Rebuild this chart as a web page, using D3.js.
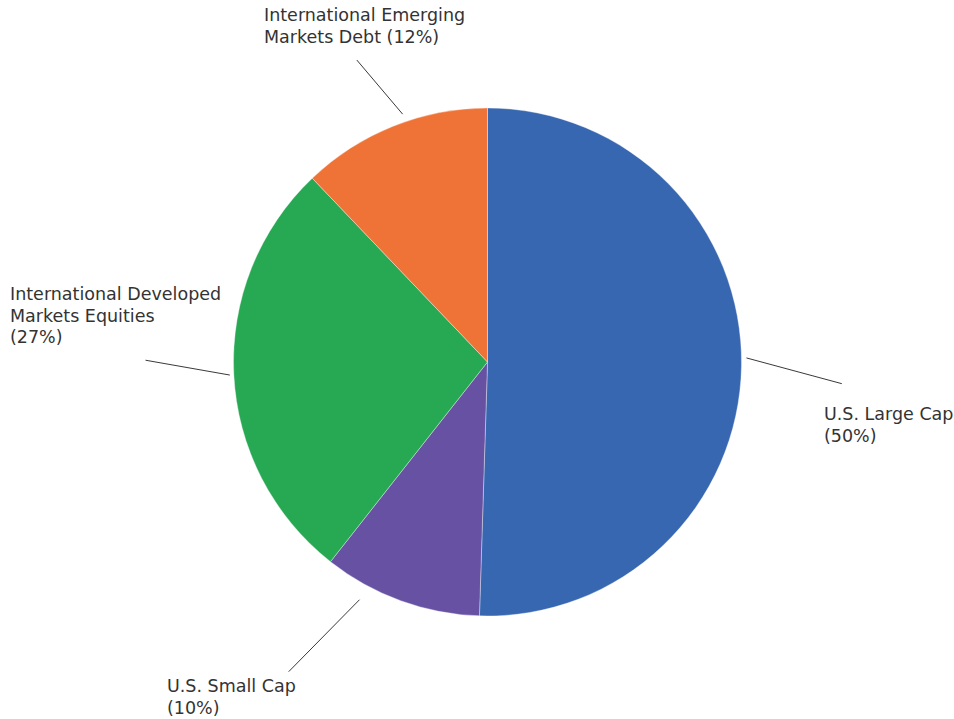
<!DOCTYPE html>
<html><head><meta charset="utf-8">
<script src="https://cdn.jsdelivr.net/npm/d3@7"></script>
<style>
html,body{margin:0;padding:0;background:#fff;}
text{font-family:"DejaVu Sans",sans-serif;font-size:17.5px;fill:#333;}
</style></head>
<body>
<svg id="chart" width="954" height="719"></svg>
<script>
const categories = ["U.S. Large Cap", "U.S. Small Cap", "International Developed Markets Equities", "International Emerging Markets Debt"];
const values = [50, 10, 27, 12];
const labelLines = [["U.S. Large Cap", "(50%)"], ["U.S. Small Cap", "(10%)"], ["International Developed", "Markets Equities", "(27%)"], ["International Emerging", "Markets Debt (12%)"]];
const colors = ["#3867b1", "#6651a3", "#27a853", "#ef7337"];

// layout (leader line polar positions and label anchors)
const layout = [
  {a1: 89.1, r1: 259, a2: 93.5, r2: 355, lx: 824, ly: 420},
  {a1: 208.3, r1: 270, a2: 212.7, r2: 368, lx: 167, ly: 692},
  {a1: 267.1, r1: 258, a2: 270.3, r2: 342, lx: 10, ly: 300},
  {a1: 341.1, r1: 262, a2: 336.6, r2: 329, lx: 264, ly: 21}
];

const svg = d3.select("#chart");
const cx = 487.5, cy = 362, R = 254;
const g = svg.append("g").attr("transform", `translate(${cx},${cy})`);
const pie = d3.pie().sort(null).value(d => d)(values);
const arc = d3.arc().innerRadius(0).outerRadius(R);
g.selectAll("path.slice").data(pie).join("path")
  .attr("class", "slice")
  .attr("d", arc)
  .attr("fill", (d, i) => colors[i])
  .attr("stroke", "#ffffff")
  .attr("stroke-opacity", 0.6)
  .attr("stroke-width", 0.6);

const polar = (a, r) => [r * Math.sin(a * Math.PI / 180), -r * Math.cos(a * Math.PI / 180)];
g.selectAll("line.leader").data(layout).join("line")
  .attr("class", "leader")
  .attr("x1", d => polar(d.a1, d.r1)[0]).attr("y1", d => polar(d.a1, d.r1)[1])
  .attr("x2", d => polar(d.a2, d.r2)[0]).attr("y2", d => polar(d.a2, d.r2)[1])
  .attr("stroke", "#222").attr("stroke-width", 0.9);

labelLines.forEach((lines, i) => {
  lines.forEach((t, j) => {
    svg.append("text")
      .attr("class", "lbl")
      .attr("x", layout[i].lx)
      .attr("y", layout[i].ly + j * 21.5)
      .text(t);
  });
});
</script>
</body></html>
